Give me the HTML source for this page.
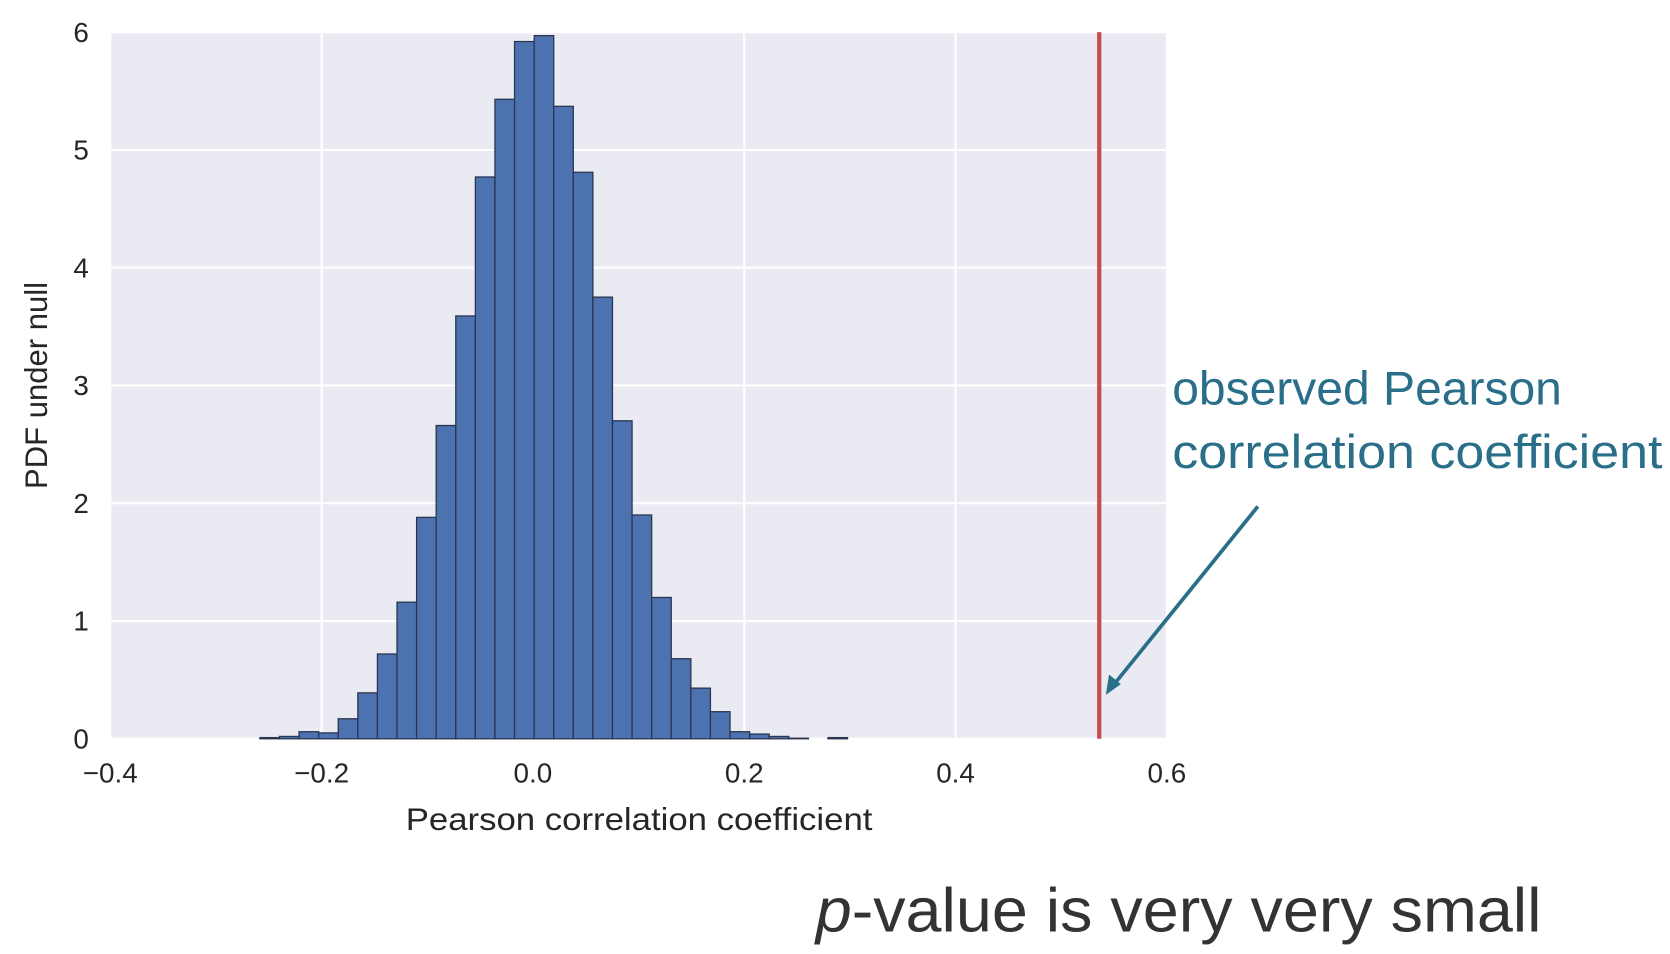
<!DOCTYPE html>
<html><head><meta charset="utf-8"><style>
html,body{margin:0;padding:0;background:#fff;}
svg{display:block;}
</style></head><body>
<svg id="chart" width="1670" height="954" viewBox="0 0 1560 891" preserveAspectRatio="none" xmlns="http://www.w3.org/2000/svg" font-family="'Liberation Sans', sans-serif">
<rect x="103" y="30" width="987" height="660" fill="#eaeaf2"/>
<g id="grid"></g>
<g id="bars"></g>
<g id="ticks"></g>
<line id="obs" stroke="#c44e52" stroke-width="4"/>
<text x="597" y="775" font-size="29" fill="#262626" text-anchor="middle" textLength="436" lengthAdjust="spacingAndGlyphs">Pearson correlation coefficient</text>
<text transform="translate(44,360) rotate(-90)" font-size="29" fill="#262626" text-anchor="middle">PDF under null</text>
<text x="1095" y="378" font-size="44" fill="#2a6f8a" textLength="364" lengthAdjust="spacingAndGlyphs">observed Pearson</text>
<text x="1095" y="437" font-size="44" fill="#2a6f8a" textLength="458" lengthAdjust="spacingAndGlyphs">correlation coefficient</text>
<line x1="1175" y1="473" x2="1040" y2="640" stroke="#2a6f8a" stroke-width="3.5"/>
<polygon points="1033,649 1036,630 1047,639" fill="#2a6f8a"/>
<text x="762" y="870" font-size="58" fill="#333" textLength="678" lengthAdjust="spacingAndGlyphs"><tspan font-style="italic">p</tspan>-value is very very small</text>
</svg>
<script>
const binStart = -0.2584;
const binWidth = 0.01854;
const binHeights = [0.01,0.02,0.06,0.05,0.17,0.39,0.72,1.16,1.88,2.66,3.59,4.77,5.43,5.92,5.97,5.37,4.81,3.75,2.70,1.90,1.20,0.68,0.43,0.23,0.06,0.04,0.02,0.005,0,0.01];
const xTicks = [-0.4,-0.2,0.0,0.2,0.4,0.6];
const xTickLabels = ["\u22120.4","\u22120.2","0.0","0.2","0.4","0.6"];
const yTicks = [0,1,2,3,4,5,6];
const observedValue = 0.536;

const NS="http://www.w3.org/2000/svg";
const X0=103,X1=1090,Y0=690,Y1=30;
const xs=v=>X0+(v+0.4)/1.0*(X1-X0);
const ys=v=>Y0-v/6*(Y0-Y1);
function mk(tag,attrs,parent){const e=document.createElementNS(NS,tag);for(const k in attrs)e.setAttribute(k,attrs[k]);parent.appendChild(e);return e;}
const grid=document.getElementById('grid'),bars=document.getElementById('bars'),ticks=document.getElementById('ticks');
xTicks.forEach((t,i)=>{
  const l=mk('line',{x1:xs(t),x2:xs(t),y1:Y1,y2:Y0,stroke:'#fff','stroke-width':2},grid);
  
  
  const tx=mk('text',{x:xs(t),y:731,'font-size':26,fill:'#262626','text-anchor':'middle'},ticks);
  tx.textContent=xTickLabels[i];
  
  
});
yTicks.forEach(t=>{
  const l=mk('line',{x1:X0,x2:X1,y1:ys(t),y2:ys(t),stroke:'#fff','stroke-width':2},grid);
  
  
  const tx=mk('text',{x:83,y:ys(t)+9,'font-size':26,fill:'#262626','text-anchor':'end'},ticks);
  tx.textContent=String(t);
  
  
});
binHeights.forEach((h,i)=>{
  const a=binStart+i*binWidth,b=a+binWidth;
  if(h<=0)return;
  const r=mk('rect',{x:xs(a),y:ys(h),width:xs(b)-xs(a),height:Y0-ys(h),fill:'#4c72b0',stroke:'#2a3550','stroke-width':1.2},bars);
  
  
});
const o=document.getElementById('obs');
o.setAttribute('x1',xs(observedValue));o.setAttribute('x2',xs(observedValue));
o.setAttribute('y1',Y1);o.setAttribute('y2',Y0);
</script>
</body></html>
